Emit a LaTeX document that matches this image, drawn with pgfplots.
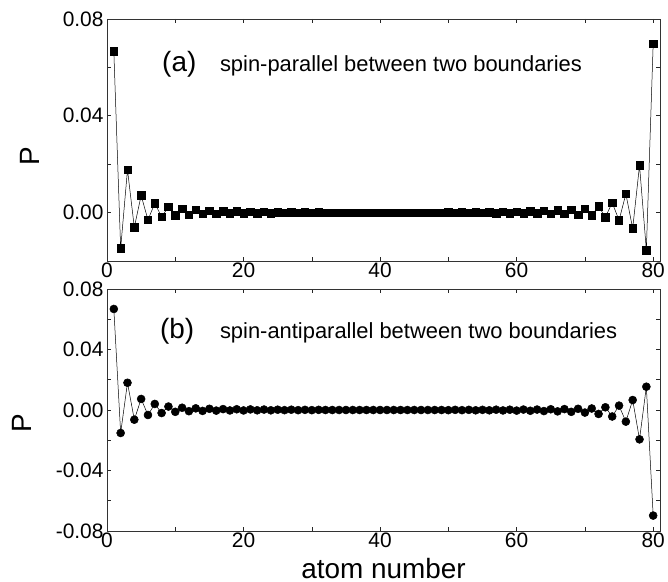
\documentclass[border=0pt]{standalone}
\usepackage{fontspec}
\setmainfont{Liberation Sans}
\usepackage{pgfplots}
\usepackage{pgfplotstable}
\pgfplotsset{compat=1.18}

\pgfplotstableread{
x pa pb
1 0.0666 0.0668
2 -0.0148 -0.0152
3 0.0177 0.0180
4 -0.0061 -0.0064
5 0.0071 0.0073
6 -0.0030 -0.0033
7 0.0038 0.0040
8 -0.0017 -0.0020
9 0.0023 0.0023
10 -0.0011 -0.0012
11 0.0015 0.0015
12 -0.0008 -0.0008
13 0.0011 0.0011
14 -0.0006 -0.0006
15 0.0008 0.0008
16 -0.0004 -0.0004
17 0.0006 0.0006
18 -0.0003 -0.0003
19 0.0005 0.0005
20 -0.0003 -0.0003
21 0.0004 0.0004
22 -0.0002 -0.0002
23 0.0003 0.0003
24 -0.0002 -0.0002
25 0.0002 0.0002
26 -0.0001 -0.0001
27 0.0002 0.0002
28 -0.0001 -0.0001
29 0.0001 0.0001
30 -0.0001 -0.0001
31 0.0001 0.0001
32 0.0000 0.0000
33 0.0000 0.0000
34 0.0000 0.0000
35 0.0000 0.0000
36 0.0000 0.0000
37 0.0000 0.0000
38 0.0000 0.0000
39 0.0000 0.0000
40 0.0000 0.0000
41 0.0000 0.0000
42 0.0000 0.0000
43 0.0000 0.0000
44 0.0000 0.0000
45 0.0000 0.0000
46 0.0000 0.0000
47 0.0000 0.0000
48 0.0000 0.0000
49 0.0000 0.0000
50 0.0001 -0.0001
51 -0.0001 0.0001
52 0.0001 -0.0001
53 -0.0001 0.0001
54 0.0002 -0.0002
55 -0.0001 0.0001
56 0.0002 -0.0002
57 -0.0002 0.0002
58 0.0003 -0.0003
59 -0.0002 0.0002
60 0.0004 -0.0004
61 -0.0003 0.0003
62 0.0005 -0.0005
63 -0.0003 0.0003
64 0.0007 -0.0007
65 -0.0005 0.0005
66 0.0009 -0.0009
67 -0.0006 0.0006
68 0.0012 -0.0012
69 -0.0008 0.0008
70 0.0016 -0.0017
71 -0.0011 0.0010
72 0.0026 -0.0026
73 -0.0019 0.0018
74 0.0041 -0.0043
75 -0.0032 0.0029
76 0.0077 -0.0077
77 -0.0065 0.0066
78 0.0195 -0.0194
79 -0.0155 0.0154
80 0.0697 -0.0698
}\polar

\pgfplotsset{
  panel/.style={
    width=553bp, height=242bp, scale only axis,
    xmin=0, xmax=81,
    xtick={0,20,40,60,80},
    minor xtick={10,30,50,70},
    tick align=inside,
    major tick length=4bp, minor tick length=4bp,
    every tick/.style={black!85, line width=0.6pt},
    axis line style={line width=0.8pt, black!80},
    tick label style={font=\fontsize{21}{21}\selectfont},
    xticklabel style={inner sep=2bp},
    /pgf/number format/assume math mode=true,
    yticklabel style={/pgf/number format/.cd, fixed, fixed zerofill, precision=2},
    scaled y ticks=false,
    ylabel={P},
    clip=false,
  },
}

\begin{document}
\begin{tikzpicture}

\begin{axis}[panel, at={(107bp,321bp)}, anchor=south west,
  ymin=-0.02, ymax=0.08,
  ytick={0,0.04,0.08}, minor ytick={-0.02,0.02,0.06},
  ylabel style={font=\fontsize{28}{28}\selectfont,
    at={(rel axis cs:-0.139,0.434)}, anchor=center, inner sep=0}]
\addplot[black, line width=0.5pt, mark=square*, mark size=3.7bp,
  mark options={solid, fill=black}] table[x=x, y=pa] {\polar};
\node[anchor=base west, inner sep=0, font=\fontsize{28}{28}\selectfont]
  at (rel axis cs:0.0995,0.781) {(a)};
\node[anchor=base west, inner sep=0, font=\fontsize{22}{22}\selectfont]
  at (rel axis cs:0.204,0.781) {spin-parallel between two boundaries};
\end{axis}

\begin{axis}[panel, at={(107bp,51bp)}, anchor=south west,
  ymin=-0.08, ymax=0.08,
  ytick={-0.08,-0.04,0,0.04,0.08}, minor ytick={-0.06,-0.02,0.02,0.06},
  ylabel style={font=\fontsize{28}{28}\selectfont,
    at={(rel axis cs:-0.154,0.446)}, anchor=center, inner sep=0},
  xlabel={atom number},
  xlabel style={font=\fontsize{28}{28}\selectfont, inner sep=0,
    at={(rel axis cs:0.5,0)}, anchor=base, yshift=-47bp}]
\addplot[black, line width=0.5pt, mark=*, mark size=4bp,
  mark options={solid, fill=black}] table[x=x, y=pb] {\polar};
\node[anchor=base west, inner sep=0, font=\fontsize{28}{28}\selectfont]
  at (rel axis cs:0.0958,0.797) {(b)};
\node[anchor=base west, inner sep=0, font=\fontsize{22}{22}\selectfont]
  at (rel axis cs:0.204,0.797) {spin-antiparallel between two boundaries};
\end{axis}

\pgfresetboundingbox
\path[use as bounding box] (0bp,0bp) rectangle (668bp,582bp);
\end{tikzpicture}
\end{document}
